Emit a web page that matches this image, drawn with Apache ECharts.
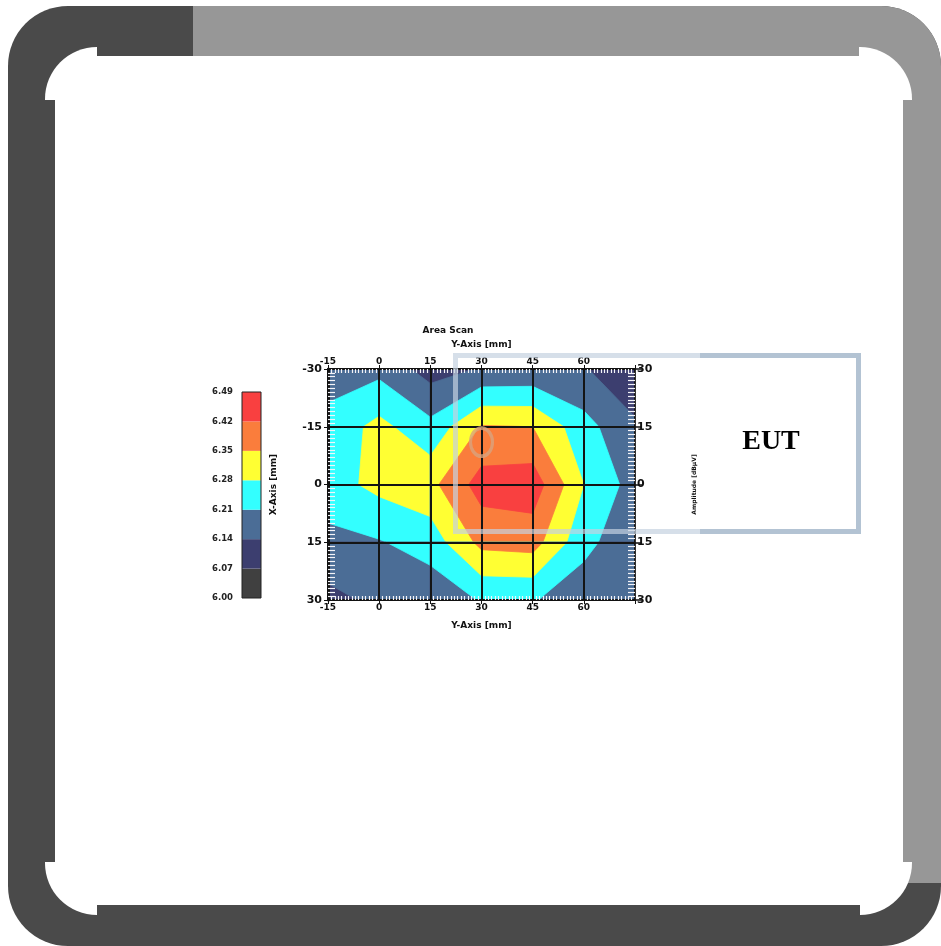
<!DOCTYPE html>
<html>
<head>
<meta charset="utf-8">
<script src="https://cdn.jsdelivr.net/npm/echarts@6/dist/echarts.min.js"></script>
<style>html,body{margin:0;padding:0;background:#fff;}#chart{width:941px;height:946px;}</style>
</head>
<body>
<div id="chart"></div>
<script>
// ---- data ----
const xNodes = [-15, 0, 15, 30, 45, 60, 75];
const yNodes = [-30, -15, 0, 15, 30];
const rowM30 = [6.175, 6.19, 6.11, 6.145, 6.15, 6.145, 6.09];
const rowM15 = [6.235, 6.30, 6.23, 6.355, 6.35, 6.235, 6.15];
const row0   = [6.25, 6.30, 6.33, 6.45, 6.46, 6.28, 6.18];
const row15  = [6.19, 6.205, 6.24, 6.37, 6.38, 6.23, 6.16];
const row30  = [6.12, 6.155, 6.165, 6.215, 6.215, 6.17, 6.16];
const levels = [6.00, 6.07, 6.14, 6.21, 6.28, 6.35, 6.42, 6.49];
const levelLabels = ['6.00', '6.07', '6.14', '6.21', '6.28', '6.35', '6.42', '6.49'];
const bandColors = ['#404040', '#3c3e6f', '#4b6d96', '#33ffff', '#ffff33', '#fa7d3c', '#f94040'];
const xTickLabels = ['-15', '0', '15', '30', '45', '60', ''];
const yTickLabels = ['-30', '-15', '0', '15', '30'];
const yRightLabels = ['30', '15', '0', '15', '30'];
const markerPoint = [[30, -11]];

const zRows = [rowM30, rowM15, row0, row15, row30];

const cells = [];
for (let j = 0; j < yNodes.length - 1; j++) {
  for (let i = 0; i < xNodes.length - 1; i++) {
    cells.push([xNodes[i], yNodes[j], i, j]);
  }
}

function clipPoly(pts, t) {
  const out = [];
  for (let a = 0; a < pts.length; a++) {
    const P = pts[a], Q = pts[(a + 1) % pts.length];
    const pin = P[2] >= t, qin = Q[2] >= t;
    if (pin) out.push(P);
    if (pin !== qin) {
      const f = (t - P[2]) / (Q[2] - P[2]);
      out.push([P[0] + f * (Q[0] - P[0]), P[1] + f * (Q[1] - P[1]), t]);
    }
  }
  return out;
}

function renderCell(params, api) {
  const i = api.value(2), j = api.value(3);
  const corners = [
    [xNodes[i], yNodes[j], zRows[j][i]],
    [xNodes[i + 1], yNodes[j], zRows[j][i + 1]],
    [xNodes[i + 1], yNodes[j + 1], zRows[j + 1][i + 1]],
    [xNodes[i], yNodes[j + 1], zRows[j + 1][i]]
  ];
  const children = [];
  for (let k = 0; k < bandColors.length; k++) {
    const t = k === 0 ? -Infinity : levels[k];
    const poly = clipPoly(corners, t);
    if (poly.length >= 3) {
      children.push({
        type: 'polygon',
        shape: { points: poly.map(p => api.coord([p[0], p[1]])) },
        style: { fill: bandColors[k], stroke: bandColors[k], lineWidth: 0.8 }
      });
    }
  }
  return { type: 'group', children: children };
}

const FONT = 'DejaVu Sans';
const minorAxis = (pos, len, isX) => Object.assign({
  gridIndex: 0, type: 'value', position: pos, z: 4,
  axisLine: { show: false, onZero: false }, axisLabel: { show: false },
  axisTick: { show: false, inside: true },
  minorTick: { show: true, splitNumber: 15, length: len, lineStyle: { color: '#f4f4f8', width: 1.2 } },
  splitLine: { show: false }
}, isX ? { min: -15, max: 75, interval: 15 } : { min: -30, max: 30, interval: 15, inverse: true });

const barSeries = bandColors.map((c, k) => ({
  type: 'bar', xAxisIndex: 4, yAxisIndex: 4, stack: 'cb', barWidth: '100%',
  data: [1], itemStyle: { color: c }, silent: true
}));

const chart = echarts.init(document.getElementById('chart'), null, { renderer: 'canvas' });
chart.setOption({
  backgroundColor: '#ffffff',
  animation: false,
  grid: [
    { left: 328, top: 369, width: 307, height: 231 },
    { left: 242, top: 392, width: 19, height: 206, show: true, borderColor: '#222', borderWidth: 1, z: 5 }
  ],
  xAxis: [
    { gridIndex: 0, type: 'value', position: 'bottom', min: -15, max: 75, interval: 15, z: 3,
      axisLine: { show: true, onZero: false, lineStyle: { color: '#111', width: 1.5 } },
      axisTick: { show: true, length: 4, lineStyle: { color: '#111' } },
      axisLabel: { formatter: (v, idx) => xTickLabels[idx], fontSize: 9, fontWeight: 'bold', color: '#111', fontFamily: FONT, margin: 3 },
      splitLine: { show: true, lineStyle: { color: '#141414', width: 2 } },
      name: 'Y-Axis [mm]', nameLocation: 'middle', nameGap: 21,
      nameTextStyle: { fontSize: 9, fontWeight: 'bold', color: '#111', fontFamily: FONT } },
    { gridIndex: 0, type: 'value', position: 'top', min: -15, max: 75, interval: 15, z: 3,
      axisLine: { show: true, onZero: false, lineStyle: { color: '#111', width: 2 } },
      axisTick: { show: true, length: 4, lineStyle: { color: '#111' } },
      axisLabel: { formatter: (v, idx) => xTickLabels[idx], fontSize: 9, fontWeight: 'bold', color: '#111', fontFamily: FONT, margin: 3 },
      splitLine: { show: false },
      name: 'Y-Axis [mm]', nameLocation: 'middle', nameGap: 20,
      nameTextStyle: { fontSize: 9, fontWeight: 'bold', color: '#111', fontFamily: FONT } },
    minorAxis('bottom', 4, true),
    minorAxis('top', 4, true),
    { gridIndex: 1, type: 'category', data: ['bar'], show: false }
  ],
  yAxis: [
    { gridIndex: 0, type: 'value', position: 'left', inverse: true, min: -30, max: 30, interval: 15, z: 3,
      axisLine: { show: true, onZero: false, lineStyle: { color: '#111', width: 3 } },
      axisTick: { show: true, length: 4, lineStyle: { color: '#111' } },
      axisLabel: { formatter: (v, idx) => yTickLabels[idx], fontSize: 11, fontWeight: 'bold', color: '#111', fontFamily: FONT, margin: 6 },
      splitLine: { show: true, lineStyle: { color: '#141414', width: 2 } },
      name: 'X-Axis [mm]', nameLocation: 'middle', nameGap: 50, nameRotate: 90,
      nameTextStyle: { fontSize: 9, fontWeight: 'bold', color: '#111', fontFamily: FONT } },
    { gridIndex: 0, type: 'value', position: 'right', inverse: true, min: -30, max: 30, interval: 15, z: 3,
      axisLine: { show: true, onZero: false, lineStyle: { color: '#333', width: 1 } },
      axisTick: { show: true, length: 7, lineStyle: { color: '#111', width: 1.5 } },
      axisLabel: { formatter: (v, idx) => yRightLabels[idx], fontSize: 11, fontWeight: 'bold', color: '#111', fontFamily: FONT, margin: 2 },
      splitLine: { show: false },
      name: 'Amplitude [dBµV]', nameLocation: 'middle', nameGap: 56, nameRotate: 90,
      nameTextStyle: { fontSize: 6, fontWeight: 'bold', color: '#111', fontFamily: FONT } },
    minorAxis('left', 7, false),
    minorAxis('right', 7, false),
    { gridIndex: 1, type: 'value', position: 'left', min: 0, max: 7, interval: 1,
      axisLine: { show: false, onZero: false }, axisTick: { show: false }, splitLine: { show: false },
      axisLabel: { formatter: (v) => levelLabels[v], fontSize: 8.5, fontWeight: 'bold', color: '#222', fontFamily: FONT, margin: 9 } }
  ],
  series: [
    { type: 'custom', xAxisIndex: 0, yAxisIndex: 0, renderItem: renderCell, data: cells,
      encode: { x: 0, y: 1 }, clip: true, z: 2, silent: true },
    { type: 'scatter', xAxisIndex: 0, yAxisIndex: 0, data: markerPoint, symbol: 'circle', symbolSize: [22, 28], z: 5,
      itemStyle: { color: 'rgba(0,0,0,0)', borderColor: '#d8a37e', borderWidth: 3.5 }, silent: true }
  ].concat(barSeries),
  graphic: [
    { type: 'rect', z: -20, shape: { x: 8, y: 6, width: 933, height: 940, r: 60 }, style: { fill: '#4a4a4a' } },
    { type: 'rect', z: -19, shape: { x: 193, y: 6, width: 748, height: 877, r: [0, 60, 0, 0] }, style: { fill: '#979797' } },
    { type: 'rect', z: -18, shape: { x: 45, y: 47, width: 867, height: 868, r: 52 }, style: { fill: '#ffffff' } },
    { type: 'rect', z: -17, shape: { x: 40, y: 100, width: 15, height: 762 }, style: { fill: '#4a4a4a' } },
    { type: 'rect', z: -17, shape: { x: 97, y: 40, width: 96, height: 16 }, style: { fill: '#4a4a4a' } },
    { type: 'rect', z: -17, shape: { x: 193, y: 40, width: 666, height: 16 }, style: { fill: '#979797' } },
    { type: 'rect', z: -17, shape: { x: 903, y: 100, width: 12, height: 762 }, style: { fill: '#979797' } },
    { type: 'rect', z: -17, shape: { x: 97, y: 905, width: 763, height: 12 }, style: { fill: '#4a4a4a' } },
    { type: 'text', z: 50, x: 448, y: 331, style: { text: 'Area Scan', align: 'center', verticalAlign: 'middle', fontSize: 9, fontWeight: 'bold', fontFamily: FONT, fill: '#111' } },
    { type: 'rect', z: 60, shape: { x: 455.5, y: 355.5, width: 403, height: 176 }, style: { fill: 'none', stroke: 'rgba(196,210,224,0.7)', lineWidth: 5 } },
    { type: 'polyline', z: 61, shape: { points: [[700, 355.5], [858.5, 355.5], [858.5, 531.5], [700, 531.5]] }, style: { fill: 'none', stroke: '#b3c3d3', lineWidth: 5 } },
    { type: 'text', z: 62, x: 771, y: 442, style: { text: 'EUT', align: 'center', verticalAlign: 'middle', fontSize: 28, fontWeight: 'bold', fontFamily: 'Liberation Serif', fill: '#000' } }
  ]
});
</script>
</body>
</html>
